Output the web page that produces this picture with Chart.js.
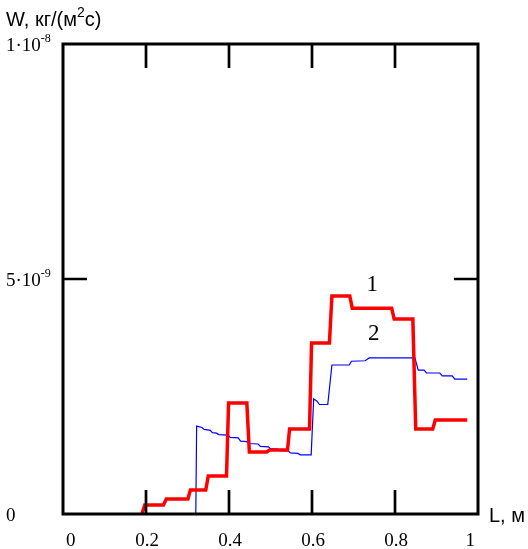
<!DOCTYPE html>
<html>
<head>
<meta charset="utf-8">
<script src="https://cdn.jsdelivr.net/npm/chart.js@4.4.0/dist/chart.umd.min.js"></script>
<style>
    body { margin: 0; background: #fff; }
    #chart { display: block; }
</style>
</head>
<body>
<canvas id="chart" width="528" height="549"></canvas>
<script>
// Curve 1 (red): L in m, W in units of 1e-9 kg/(m2 s)
const redL = [0.190, 0.197, 0.242, 0.249, 0.301, 0.307, 0.344, 0.350, 0.394, 0.399, 0.443, 0.449, 0.491, 0.498, 0.541, 0.546, 0.594, 0.599, 0.642, 0.648, 0.691, 0.697, 0.792, 0.798, 0.843, 0.850, 0.891, 0.897, 0.974];
const redW = [0.00, 0.19, 0.19, 0.32, 0.32, 0.51, 0.51, 0.81, 0.81, 2.36, 2.36, 1.32, 1.32, 1.36, 1.36, 1.81, 1.81, 3.64, 3.64, 4.64, 4.64, 4.38, 4.38, 4.15, 4.15, 1.81, 1.81, 2.00, 2.00];

// Curve 2 (blue)
const blueL = [0.320, 0.322, 0.335, 0.340, 0.355, 0.360, 0.370, 0.375, 0.398, 0.403, 0.422, 0.428, 0.443, 0.448, 0.470, 0.476, 0.495, 0.500, 0.518, 0.523, 0.543, 0.548, 0.566, 0.572, 0.598, 0.604, 0.612, 0.618, 0.638, 0.648, 0.690, 0.695, 0.728, 0.738, 0.848, 0.856, 0.870, 0.876, 0.908, 0.914, 0.938, 0.944, 0.974];
const blueW = [0.00, 1.87, 1.84, 1.80, 1.78, 1.73, 1.72, 1.69, 1.68, 1.63, 1.62, 1.55, 1.54, 1.50, 1.49, 1.44, 1.43, 1.39, 1.38, 1.35, 1.34, 1.30, 1.29, 1.26, 1.26, 2.45, 2.40, 2.33, 2.33, 3.17, 3.17, 3.25, 3.26, 3.32, 3.32, 3.06, 3.06, 3.00, 3.00, 2.94, 2.94, 2.87, 2.87];

// Axis ticks
const xTicks = [0, 0.2, 0.4, 0.6, 0.8, 1];
const xTickLabels = ['0', '0.2', '0.4', '0.6', '0.8', '1'];
const yTicks = [0, 5, 10];
const yTickLabels = [['0', ''], ['5\u00B710', '-9'], ['1\u00B710', '-8']];

// Curve labels
const curveNames = ['1', '2'];
const curveNameL = [0.745, 0.749];
const curveNameW = [4.75, 3.70];

function toPoints(xs, ys) {
    return xs.map((x, i) => ({x: x, y: ys[i]}));
}

const framePlugin = {
    id: 'frame',
    afterDraw(chart) {
        const ctx = chart.ctx;
        const xs = chart.scales.x;
        const ys = chart.scales.y;
        const a = chart.chartArea;
        ctx.save();
        ctx.strokeStyle = '#000';
        ctx.lineWidth = 3;
        ctx.strokeRect(a.left, a.top, a.right - a.left, a.bottom - a.top);

        // inner tick marks
        ctx.lineWidth = 2.7;
        ctx.beginPath();
        xTicks.forEach(v => {
            if (v <= 0 || v >= 1) return;
            const px = xs.getPixelForValue(v);
            ctx.moveTo(px, a.top); ctx.lineTo(px, a.top + 24);
            ctx.moveTo(px, a.bottom); ctx.lineTo(px, a.bottom - 24);
        });
        yTicks.forEach(v => {
            if (v <= 0 || v >= 10) return;
            const py = ys.getPixelForValue(v);
            ctx.moveTo(a.left, py); ctx.lineTo(a.left + 24, py);
            ctx.moveTo(a.right, py); ctx.lineTo(a.right - 24, py);
        });
        ctx.stroke();

        // x tick labels
        ctx.fillStyle = '#000';
        ctx.font = '19px "Liberation Serif", serif';
        ctx.textBaseline = 'alphabetic';
        xTicks.forEach((v, i) => {
            const px = xs.getPixelForValue(v);
            if (i === 0) { ctx.textAlign = 'left'; ctx.fillText(xTickLabels[i], px + 3, 546); }
            else if (i === xTicks.length - 1) { ctx.textAlign = 'right'; ctx.fillText(xTickLabels[i], px - 3, 546); }
            else { ctx.textAlign = 'center'; ctx.fillText(xTickLabels[i], px + 1, 546); }
        });

        // y tick labels with superscript exponent
        ctx.textAlign = 'left';
        yTicks.forEach((v, i) => {
            const py = ys.getPixelForValue(v);
            ctx.font = '19px "Liberation Serif", serif';
            const base = yTickLabels[i][0];
            const x0 = 6;
            ctx.fillText(base, x0, py + 7);
            const w = ctx.measureText(base).width;
            ctx.font = '12px "Liberation Serif", serif';
            ctx.fillText(yTickLabels[i][1], x0 + w, py - 2);
        });

        // curve labels
        ctx.font = '23px "Liberation Serif", serif';
        ctx.textAlign = 'center';
        curveNames.forEach((n, i) => {
            ctx.fillText(n, xs.getPixelForValue(curveNameL[i]), ys.getPixelForValue(curveNameW[i]));
        });

        // axis titles
        ctx.font = '20px "Liberation Sans", Arial, sans-serif';
        ctx.textAlign = 'left';
        let t = 'W, \u043A\u0433/(\u043C';
        ctx.fillText(t, 6, 26);
        let tw = ctx.measureText(t).width;
        ctx.font = '14px "Liberation Sans", Arial, sans-serif';
        ctx.fillText('2', 6 + tw, 17);
        const sw = ctx.measureText('2').width;
        ctx.font = '20px "Liberation Sans", Arial, sans-serif';
        ctx.fillText('\u0441)', 6 + tw + sw, 26);

        ctx.font = '20px "Liberation Sans", Arial, sans-serif';
        ctx.textBaseline = 'alphabetic';
        ctx.fillText('L, \u043C', 489, 522);
        ctx.restore();
    }
};

const chart = new Chart(document.getElementById('chart'), {
    type: 'line',
    data: {
        datasets: [
            {
                label: '1',
                data: toPoints(redL, redW),
                borderColor: '#ff0000',
                borderWidth: 3.5,
                pointRadius: 0,
                tension: 0,
                fill: false
            },
            {
                label: '2',
                data: toPoints(blueL, blueW),
                borderColor: '#0000ff',
                borderWidth: 1.2,
                pointRadius: 0,
                tension: 0,
                fill: false
            }
        ]
    },
    options: {
        responsive: false,
        animation: false,
        devicePixelRatio: 1,
        layout: { padding: { left: 63, right: 50, top: 44, bottom: 35 } },
        plugins: { legend: { display: false }, tooltip: { enabled: false } },
        scales: {
            x: { type: 'linear', min: 0, max: 1, display: false },
            y: { type: 'linear', min: 0, max: 10, display: false }
        }
    },
    plugins: [framePlugin]
});
</script>
</body>
</html>
